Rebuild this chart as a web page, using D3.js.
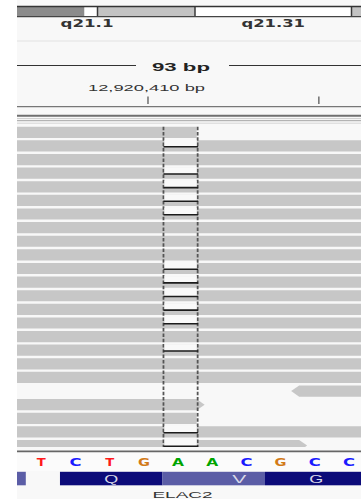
<!DOCTYPE html>
<html><head><meta charset="utf-8">
<script src="https://cdn.jsdelivr.net/npm/d3@7"></script>
<style>html,body{margin:0;padding:0;background:#fff;overflow:hidden}</style>
</head><body><svg id="c" width="361" height="499"></svg>
<script>
// ---------------- DATA ----------------
const bandNames  = ["q12", "q21.1", "q21.2", "q21.31", "q21.32"];
const bandStarts = [39.50, 40.675, 40.805, 41.78, 43.345];   // Mb
const bandEnds   = [40.675, 40.805, 41.78, 43.345, 44.00];   // Mb
const bandStains = ["gpos75", "gneg", "gpos25", "gneg", "gpos25"];
const bandLabelsShown = ["q21.1", "q21.31"];
const ideoView = [40.00, 43.44];                            // Mb shown

const regionWidthLabel = "93 bp";
const tickValues = [12920410, 12920415];
const tickLabels = ["12,920,410 bp", ""];

const viewStart = 12920404.7425;   // genomic coordinate at left edge
const viewEnd   = 12920414.81;     // genomic coordinate at right edge
const seqStart  = 12920405;        // first full base shown (0-based start)
const bases     = ["T","C","T","G","A","A","C","G","C","C"];
const codonStarts = [12920402, 12920406, 12920409, 12920412];
const aminoAcids  = ["", "Q", "V", "G"];
const geneName = "ELAC2";

// reads: one per row (genomic start, end, strand)
const readStarts = [12920380,12920380,12920380,12920380,12920380,12920380,12920380,12920380,
                    12920380,12920380,12920380,12920380,12920380,12920380,12920380,12920380,
                    12920380,12920380,12920380,12920413,12920380,12920380,12920380,12920380];
const readEnds   = [12920410,12920440,12920440,12920440,12920440,12920440,12920440,12920440,
                    12920440,12920440,12920440,12920440,12920440,12920440,12920440,12920440,
                    12920440,12920440,12920440,12920440,12920410,12920410,12920440,12920413];
const readStrands = ["-","+","-","+","-","+","-","+","-","+","-","+","-","+","-","+",
                     "-","+","-","-","+","-","+","+"];
const deletionRows = [1,3,4,5,6,10,11,12,13,14,16,22,23];
const deletionStart = 12920409, deletionEnd = 12920410;

// ---------------- LAYOUT ----------------
const W = 361, H = 499, L = 17;
const svg = d3.select("#c");
svg.append("rect").attr("width", W).attr("height", H).attr("fill", "#ffffff");
svg.append("rect").attr("x", L).attr("width", W - L).attr("height", H).attr("fill", "#f8f8f8");

const defs = svg.append("defs");
defs.append("clipPath").attr("id", "clipIdeo").append("rect").attr("x", L).attr("y", 0).attr("width", W - L).attr("height", 40);
defs.append("clipPath").attr("id", "clipReads").append("rect").attr("x", L).attr("y", 125).attr("width", W - L).attr("height", 322);
defs.append("clipPath").attr("id", "clipSeq").append("rect").attr("x", L).attr("y", 450).attr("width", W - L).attr("height", 49);

// ideogram
const ix = d3.scaleLinear().domain(ideoView).range([L, W]);
const stainColor = {gpos75: "#8b8b8b", gpos25: "#c3c3c3", gneg: "#ffffff"};
const ideo = svg.append("g").attr("clip-path", "url(#clipIdeo)");
const bands = bandNames.map((n, i) => ({name: n, s: bandStarts[i], e: bandEnds[i], stain: bandStains[i]}));
ideo.selectAll("rect.band").data(bands).join("rect")
  .attr("x", d => ix(d.s)).attr("y", 7).attr("width", d => ix(d.e) - ix(d.s)).attr("height", 9.5)
  .attr("fill", d => stainColor[d.stain]);
ideo.selectAll("line.sep").data(bands.filter(d => d.stain !== "gpos75")).join("line")
  .attr("x1", d => ix(d.e)).attr("x2", d => ix(d.e)).attr("y1", 6.5).attr("y2", 17)
  .attr("stroke", "#3a3a3a").attr("stroke-width", 1.5);
ideo.append("line").attr("x1", L).attr("x2", W).attr("y1", 6.5).attr("y2", 6.5).attr("stroke", "#333").attr("stroke-width", 1.4);
ideo.append("line").attr("x1", L).attr("x2", W).attr("y1", 16.6).attr("y2", 16.6).attr("stroke", "#444").attr("stroke-width", 1.2);
svg.selectAll("text.blab").data(bands.filter(d => bandLabelsShown.includes(d.name))).join("text")
  .attr("x", d => ix((d.s + d.e) / 2) - (d.name === "q21.1" ? 4 : 0)).attr("y", 26.5)
  .attr("text-anchor", "middle").attr("font-family", "DejaVu Sans").attr("font-weight", "bold")
  .attr("font-size", 10).attr("fill", "#333")
  .attr("textLength", d => d.name.length * 10.6).attr("lengthAdjust", "spacingAndGlyphs")
  .text(d => d.name);

// header separator
svg.append("line").attr("x1", L).attr("x2", W).attr("y1", 41).attr("y2", 41).attr("stroke", "#e2e2e2");

// genomic scale
const x = d3.scaleLinear().domain([viewStart, viewEnd]).range([L, W]);
const bw = x(seqStart + 1) - x(seqStart);

// ruler
const midX = 181;
svg.append("text").attr("x", midX).attr("y", 70.5).attr("text-anchor", "middle")
  .attr("font-family", "Liberation Sans, Arial").attr("font-weight", "bold").attr("font-size", 11)
  .attr("fill", "#222").attr("textLength", 58).attr("lengthAdjust", "spacingAndGlyphs").text(regionWidthLabel);
svg.append("line").attr("x1", L).attr("x2", midX - 45).attr("y1", 65.5).attr("y2", 65.5).attr("stroke", "#333").attr("stroke-width", 1.2);
svg.append("line").attr("x1", midX + 48).attr("x2", W).attr("y1", 65.5).attr("y2", 65.5).attr("stroke", "#333").attr("stroke-width", 1.2);

const tickShift = 1.424;
const ticks = tickValues.map((v, i) => ({v, label: tickLabels[i]}));
svg.selectAll("line.tick").data(ticks).join("line")
  .attr("x1", d => x(d.v - tickShift)).attr("x2", d => x(d.v - tickShift))
  .attr("y1", 96.5).attr("y2", 104).attr("stroke", "#777").attr("stroke-width", 1.6);
svg.selectAll("text.tick").data(ticks.filter(d => d.label)).join("text")
  .attr("x", d => x(d.v - tickShift) - 1.5).attr("y", 90.5).attr("text-anchor", "middle")
  .attr("font-family", "Liberation Sans, Arial").attr("font-size", 8.5).attr("fill", "#333")
  .attr("textLength", 117).attr("lengthAdjust", "spacingAndGlyphs").text(d => d.label);
svg.append("line").attr("x1", L).attr("x2", W).attr("y1", 106.6).attr("y2", 106.6).attr("stroke", "#777").attr("stroke-width", 1.4);

// coverage-ish thin lines
[[115.8, "#6f6f6f", 2], [118.6, "#cdcdcd", 1], [120.7, "#a3a3a3", 1], [123.2, "#d6d6d6", 1]].forEach(([y, c, w]) =>
  svg.append("line").attr("x1", L).attr("x2", W).attr("y1", y).attr("y2", y).attr("stroke", c).attr("stroke-width", w));

// reads
const rowTop0 = 126.7, pitch = 13.62, readH = 11.2, arrowLen = 8;
const reads = readStarts.map((s, i) => ({row: i, s, e: readEnds[i], strand: readStrands[i]}));
const rg = svg.append("g").attr("clip-path", "url(#clipReads)");
function readPath(d) {
  const t = rowTop0 + d.row * pitch, b = t + readH, m = t + readH / 2;
  const x0 = x(d.s), x1 = x(d.e);
  if (d.strand === "+") return `M${x0},${t}L${x1},${t}L${x1 + arrowLen},${m}L${x1},${b}L${x0},${b}Z`;
  return `M${x0},${t}L${x1},${t}L${x1},${b}L${x0},${b}L${x0 - arrowLen},${m}Z`;
}
rg.selectAll("path.read").data(reads).join("path").attr("d", readPath).attr("fill", "#c7c7c7");

// dashed center lines
const cg = rg.append("g");
[deletionStart, deletionEnd].forEach(p =>
  cg.append("line").attr("x1", x(p) + 1).attr("x2", x(p) + 1).attr("y1", 126.7).attr("y2", 450)
    .attr("stroke", "#555").attr("stroke-width", 1.8).attr("stroke-dasharray", "3.5,1.8"));

// deletions
const dels = deletionRows.map(r => ({row: r}));
rg.selectAll("rect.del").data(dels).join("rect")
  .attr("x", x(deletionStart) + 1.9).attr("width", x(deletionEnd) - x(deletionStart) - 1.8)
  .attr("y", d => rowTop0 + d.row * pitch - 0.4).attr("height", 6.6).attr("fill", "#f9f9f9");
rg.selectAll("line.del").data(dels).join("line")
  .attr("x1", x(deletionStart) + 1).attr("x2", x(deletionEnd) + 1.5)
  .attr("y1", d => rowTop0 + d.row * pitch + 6.4).attr("y2", d => rowTop0 + d.row * pitch + 6.4)
  .attr("stroke", "#1c1c1c").attr("stroke-width", 1.6);

// sequence track
svg.append("line").attr("x1", L).attr("x2", W).attr("y1", 451.5).attr("y2", 451.5).attr("stroke", "#666").attr("stroke-width", 2);
svg.append("rect").attr("x", L).attr("y", 452.5).attr("width", W - L).attr("height", 18.5).attr("fill", "#fbfbfb");
const baseColor = {A: "#00a400", C: "#1a1aff", G: "#d27a18", T: "#ff1a1a"};
svg.selectAll("text.base").data(bases.map((b, i) => ({b, i}))).join("text")
  .attr("x", d => x(seqStart + d.i + 0.5) - 1.5).attr("y", 465.5).attr("text-anchor", "middle")
  .attr("font-family", "DejaVu Sans").attr("font-weight", "bold").attr("font-size", 10)
  .attr("fill", d => baseColor[d.b])
  .attr("textLength", d => d.b === "T" ? 9 : 12).attr("lengthAdjust", "spacingAndGlyphs")
  .text(d => d.b);

// translation
const tg = svg.append("g").attr("clip-path", "url(#clipSeq)");
const codons = codonStarts.map((s, i) => ({s, aa: aminoAcids[i], i}));
const aaLabelShift = {Q: 0, V: 0.75, G: 0};   // label offset within codon (bp)
tg.selectAll("rect.codon").data(codons).join("rect")
  .attr("x", d => x(d.s)).attr("width", 3 * bw).attr("y", 471.8).attr("height", 13.5)
  .attr("fill", d => d.i % 2 === 0 ? "#5b5da6" : "#0c0b79");
tg.selectAll("text.aa").data(codons.filter(d => d.aa)).join("text")
  .attr("x", d => x(d.s + 1.5 + (aaLabelShift[d.aa] || 0))).attr("y", 482.6).attr("text-anchor", "middle")
  .attr("font-family", "Liberation Sans, Arial").attr("font-size", 10).attr("fill", "#d9d9e8")
  .attr("textLength", 14).attr("lengthAdjust", "spacingAndGlyphs").text(d => d.aa);

// gene name
svg.append("text").attr("x", 182.5).attr("y", 497.5).attr("text-anchor", "middle")
  .attr("font-family", "Liberation Sans, Arial").attr("font-size", 9).attr("fill", "#333")
  .attr("textLength", 60).attr("lengthAdjust", "spacingAndGlyphs").text(geneName);
</script>
</body></html>
